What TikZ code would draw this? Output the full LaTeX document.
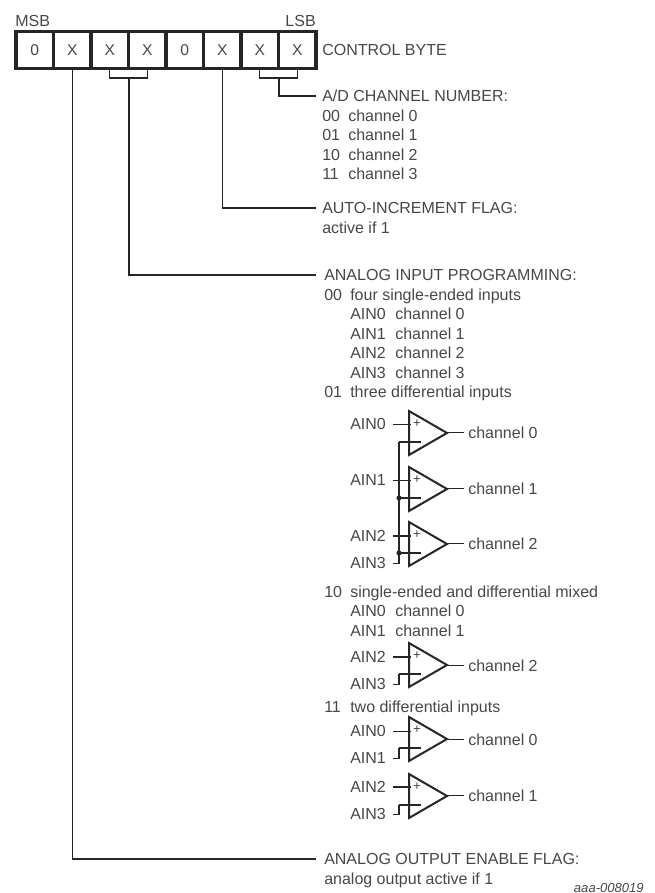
\documentclass[tikz,border=0pt]{standalone}
\usepackage{fontspec}
\setmainfont{Liberation Sans}
\definecolor{ink}{gray}{0.15}
\definecolor{txt}{gray}{0.28}
\tikzset{
  lab/.style={anchor=base west,inner sep=0pt,text=txt,font=\fontsize{12pt}{14pt}\selectfont},
  labr/.style={lab,anchor=base east},
  cell/.style={draw=ink,line width=2.3pt,minimum width=28.1pt,minimum height=28.2pt,inner sep=0pt,text=txt,font=\fontsize{11.7pt}{14pt}\selectfont},
  wire/.style={draw=ink,line width=0.8pt},
  amp/.style={draw=ink,line width=1.5pt,line join=miter},
  sgn/.style={inner sep=0pt,text=txt,font=\fontsize{10pt}{12pt}\selectfont},
  jdot/.style={circle,fill=ink,inner sep=0pt,minimum size=3.8pt},
}
% #1 name, #2 top y of the triangle
\newcommand{\opamp}[2]{%
  \coordinate (#1-t) at (409,#2);
  \coordinate (#1-b) at (409,#2+44);
  \coordinate (#1-o) at (447,#2+22);
  \coordinate (#1-p) at (411,#2+13);
  \coordinate (#1-m) at (421,#2+31);
  \coordinate (#1-k) at (399,#2+31);
  \draw[amp] (#1-t) -- (#1-b) -- (#1-o) -- cycle;
  \node[sgn] (#1-plus) at (417,#2+13) {+};
}
% #1 amp, #2 input label (+), #3 output label
\newcommand{\ampwires}[3]{%
  \draw[wire,shorten <=5pt] (#2.east) -- (#2.east-|#1-p);
  \draw[wire] (#1-o) -- (#3.west-|#1-o) -- ([xshift=-3pt]#3.west);
  \draw[wire] (#1-m) -- (#1-k);
}
\newcommand{\tl}[4]{\node[lab] (#1) at (#2,#3+5.6) {#4};}
\begin{document}
\begin{tikzpicture}[x=0.75pt,y=-0.75pt]
\useasboundingbox (0,0) rectangle (654,893);
% byte register
\foreach \i/\t in {1/0,2/X,3/X,4/X,5/0,6/X,7/X,8/X}
  \node[cell] (c\i) at ({16+37.5*(\i-0.5)},50) {\t};
\node[lab] (msb) at (15,26.5) {MSB};
\node[labr] (lsb) at (316,26.5) {LSB};
\tl{cb}{322}{50}{CONTROL BYTE}
% texts, right column
\tl{ad}{322}{96}{A/D CHANNEL NUMBER:}
\tl{ad0a}{322}{116}{00}\tl{ad0b}{348}{116}{channel 0}
\tl{ad1a}{322}{135}{01}\tl{ad1b}{348}{135}{channel 1}
\tl{ad2a}{322}{155}{10}\tl{ad2b}{348}{155}{channel 2}
\tl{ad3a}{322}{174}{11}\tl{ad3b}{348}{174}{channel 3}
\tl{auto}{322}{208}{AUTO-INCREMENT FLAG:}
\tl{autob}{322}{228}{active if 1}
\tl{ana}{324}{275}{ANALOG INPUT PROGRAMMING:}
\tl{r00}{324}{295}{00}\tl{r00t}{350}{295}{four single-ended inputs}
\tl{a0}{350}{314}{AIN0}\tl{a0c}{395}{314}{channel 0}
\tl{a1}{350}{334}{AIN1}\tl{a1c}{395}{334}{channel 1}
\tl{a2}{350}{353}{AIN2}\tl{a2c}{395}{353}{channel 2}
\tl{a3}{350}{373}{AIN3}\tl{a3c}{395}{373}{channel 3}
\tl{r01}{324}{392}{01}\tl{r01t}{350}{392}{three differential inputs}
\tl{r10}{324}{592}{10}\tl{r10t}{350}{592}{single-ended and differential mixed}
\tl{b0}{350}{611}{AIN0}\tl{b0c}{395}{611}{channel 0}
\tl{b1}{350}{631}{AIN1}\tl{b1c}{395}{631}{channel 1}
\tl{r11}{324}{707}{11}\tl{r11t}{350}{707}{two differential inputs}
\tl{out}{324}{859}{ANALOG OUTPUT ENABLE FLAG:}
\tl{outb}{324}{879}{analog output active if 1}
\node[anchor=base east,inner sep=0pt,text=txt,font=\fontsize{9.8pt}{12pt}\selectfont\itshape] (tag) at (644,892) {aaa-008019};
% brackets and leaders
\coordinate (brA) at (129,78);
\coordinate (brB) at (279,78);
\draw[wire] (c3.south) -- (brA-|c3.south) -- (brA-|c4.south) -- (c4.south);
\draw[wire] (c7.south) -- (brB-|c7.south) -- (brB-|c8.south) -- (c8.south);
\coordinate (adE) at (316,96);
\coordinate (autoE) at (316,208);
\coordinate (anaE) at (316,275);
\coordinate (outE) at (316,859);
\draw[wire] (brB) |- (adE);
\draw[wire] (c6.south) |- (autoE);
\draw[wire] (brA) |- (anaE);
\draw[wire] (c2.south) |- (outE);
% 01: three differential inputs
\opamp{u1}{411}\opamp{u2}{467}\opamp{u3}{522}
\tl{u1a}{350}{424}{AIN0}\tl{u2a}{350}{480}{AIN1}\tl{u3a}{350}{536}{AIN2}\tl{u3n}{350}{563}{AIN3}
\tl{u1c}{468}{433}{channel 0}\tl{u2c}{468}{489}{channel 1}\tl{u3c}{468}{544}{channel 2}
\ampwires{u1}{u1a}{u1c}
\ampwires{u2}{u2a}{u2c}
\ampwires{u3}{u3a}{u3c}
\draw[wire,shorten >=5pt] (u1-k) |- (u3n.east);
\node[jdot] (j2) at (u2-k) {};
\node[jdot] (j3) at (u3-k) {};
% 10: AIN2/AIN3 differential
\opamp{u4}{643}
\tl{u4a}{350}{657}{AIN2}\tl{u4n}{350}{684}{AIN3}\tl{u4c}{468}{666}{channel 2}
\ampwires{u4}{u4a}{u4c}
\draw[wire,shorten >=5pt] (u4-k) |- (u4n.east);
% 11: two differential inputs
\opamp{u5}{717}
\tl{u5a}{350}{731}{AIN0}\tl{u5n}{350}{758}{AIN1}\tl{u5c}{468}{740}{channel 0}
\ampwires{u5}{u5a}{u5c}
\draw[wire,shorten >=5pt] (u5-k) |- (u5n.east);
\opamp{u6}{774}
\tl{u6a}{350}{787}{AIN2}\tl{u6n}{350}{814}{AIN3}\tl{u6c}{468}{796}{channel 1}
\ampwires{u6}{u6a}{u6c}
\draw[wire,shorten >=5pt] (u6-k) |- (u6n.east);
\end{tikzpicture}
\end{document}
